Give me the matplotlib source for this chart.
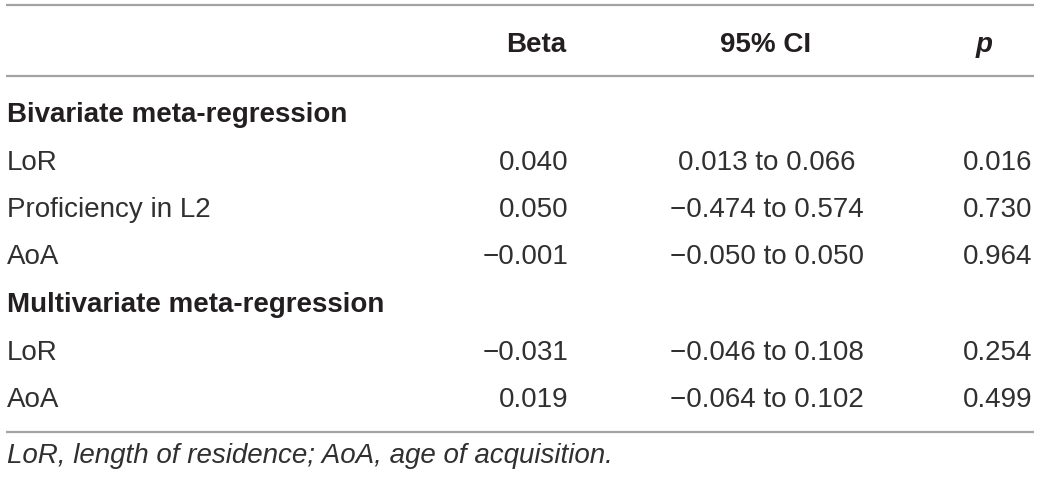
import matplotlib
matplotlib.use("Agg")
import matplotlib.pyplot as plt

headers = ["Beta", "95% CI", "p"]
sections = ["Bivariate meta-regression", "Multivariate meta-regression"]
row_labels = [["LoR", "Proficiency in L2", "AoA"], ["LoR", "AoA"]]
beta = [["0.040", "0.050", "\u22120.001"], ["\u22120.031", "0.019"]]
ci = [["0.013 to 0.066", "\u22120.474 to 0.574", "\u22120.050 to 0.050"],
      ["\u22120.046 to 0.108", "\u22120.064 to 0.102"]]
pvals = [["0.016", "0.730", "0.964"], ["0.254", "0.499"]]
footnote = "LoR, length of residence; AoA, age of acquisition."

W, H = 1040, 480
fig = plt.figure(figsize=(W / 100, H / 100), dpi=100)
ax = fig.add_axes([0, 0, 1, 1])
ax.set_xlim(0, W)
ax.set_ylim(H, 0)
ax.axis("off")

fam = ["Liberation Sans", "DejaVu Sans"]
txt = "#231f20"
body_c = "#303030"
fs = 20
line_c = "#a3a3a3"

# rules
for y in (5, 76, 432):
    ax.plot([6, 1034], [y, y], color=line_c, lw=1.6, solid_capstyle="butt")

# header
hy = 52
ax.text(566, hy, headers[0], ha="right", va="baseline", fontsize=fs, fontweight="bold", family=fam, color=txt)
ax.text(766, hy, headers[1], ha="center", va="baseline", fontsize=fs, fontweight="bold", family=fam, color=txt)
ax.text(984, hy, headers[2], ha="center", va="baseline", fontsize=fs, fontweight="bold", style="italic", family=fam, color=txt)

y = 122
step = 47.5
for s, sec in enumerate(sections):
    ax.text(7, y, sec, ha="left", va="baseline", fontsize=fs, fontweight="bold", family=fam, color=txt)
    y += step
    for i, lab in enumerate(row_labels[s]):
        ax.text(7, y, lab, ha="left", va="baseline", fontsize=fs, family=fam, color=body_c)
        ax.text(568, y, beta[s][i], ha="right", va="baseline", fontsize=fs, family=fam, color=body_c)
        ax.text(767, y, ci[s][i], ha="center", va="baseline", fontsize=fs, family=fam, color=body_c)
        ax.text(1032, y, pvals[s][i], ha="right", va="baseline", fontsize=fs, family=fam, color=body_c)
        y += step

ax.text(7, 463, footnote, ha="left", va="baseline", fontsize=fs, style="italic", family=fam, color=body_c)

fig.savefig("out.png", dpi=100, facecolor="white")
